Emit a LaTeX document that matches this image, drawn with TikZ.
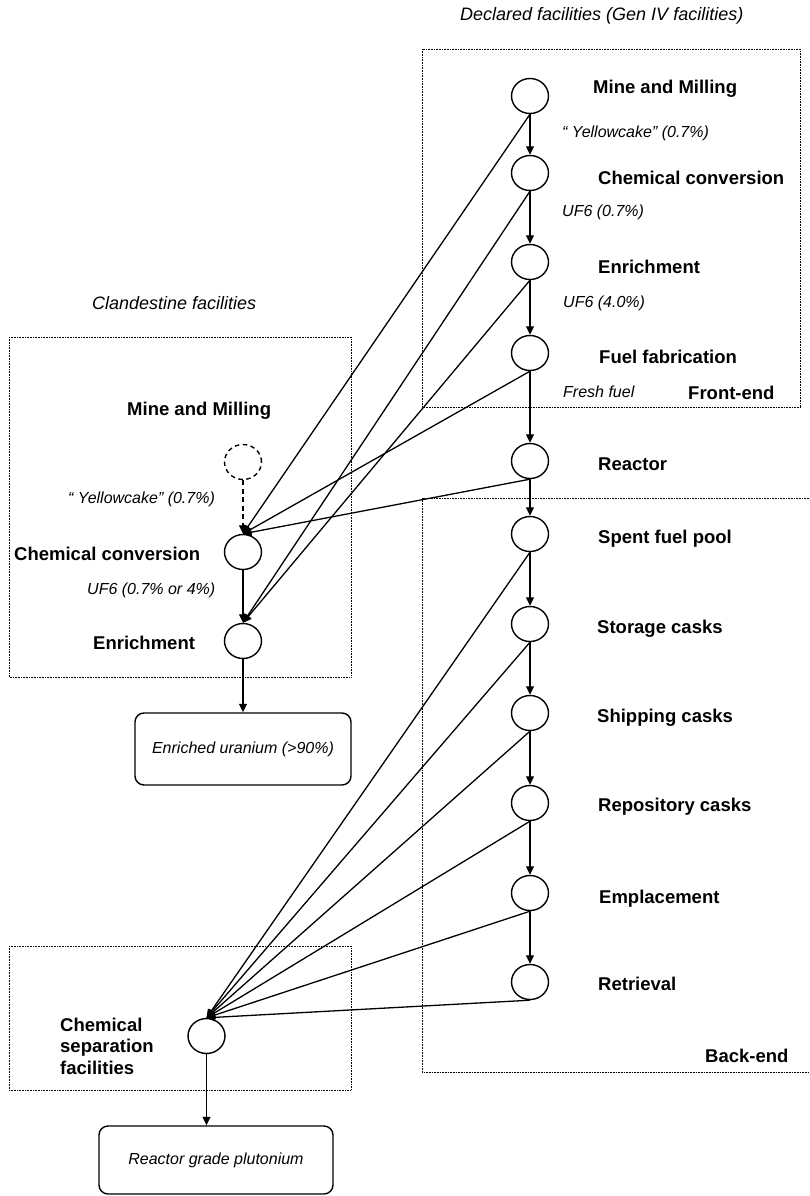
\documentclass[tikz,border=0pt]{standalone}
\usepackage{fontspec}
\setmainfont{Liberation Sans}
\usetikzlibrary{shapes.geometric,arrows.meta}

\tikzset{
  stage/.style={ellipse, draw, line width=1.4pt, minimum width=37pt, minimum height=35pt, inner sep=0pt},
  ghost/.style={stage, dash pattern=on 4.5pt off 3.5pt},
  lbl/.style={inner sep=0pt, anchor=base west, font=\fontsize{18.5}{21.5}\selectfont\bfseries},
  note/.style={inner sep=0pt, anchor=base west, font=\fontsize{16}{19}\selectfont\itshape},
  heading/.style={inner sep=0pt, anchor=base west, font=\fontsize{18}{21}\selectfont\itshape},
  outbox/.style={draw, line width=1.4pt, rounded corners=9pt, inner sep=0pt, font=\fontsize{16}{19}\selectfont\itshape},
  zone/.style={line width=0.8pt, dash pattern=on 0.8pt off 0.8pt},
  flow/.style={line width=1.3pt, -{Triangle[length=8.5pt,width=8pt]}},
}

\begin{document}
\begin{tikzpicture}[x=1pt, y=-1pt]
\useasboundingbox (0,0) rectangle (810,1196);

% facility groupings
\draw[zone] (422,49) rectangle (800,407);
\draw[zone] (814,498) -- (422,498) -- (422,1072) -- (814,1072);
\draw[zone] (9,337) rectangle (351,677);
\draw[zone] (9,946) rectangle (351,1090);

% headings
\node[heading] (hDecl) at (460,21) {Declared facilities (Gen IV facilities)};
\node[heading] (hClan) at (92,309) {Clandestine facilities};

% declared fuel cycle
\node[stage] (mine) at (530,96) {};
\node[stage] (conv) at (530,173) {};
\node[stage] (enr)  at (530,262) {};
\node[stage] (fab)  at (530,353) {};
\node[stage] (reac) at (530,461) {};
\node[stage] (pool) at (530,534) {};
\node[stage] (stor) at (530,624) {};
\node[stage] (ship) at (530,713) {};
\node[stage] (repo) at (530,803) {};
\node[stage] (empl) at (530,893) {};
\node[stage] (retr) at (530,982) {};

\node[lbl] (tMine) at (593,94)  {Mine and Milling};
\node[lbl] (tConv) at (598,184) {Chemical conversion};
\node[lbl] (tEnr)  at (598,273) {Enrichment};
\node[lbl] (tFab)  at (599,363) {Fuel fabrication};
\node[lbl] (tReac) at (598,470) {Reactor};
\node[lbl] (tPool) at (598,543) {Spent fuel pool};
\node[lbl] (tStor) at (597,633) {Storage casks};
\node[lbl] (tShip) at (597,722) {Shipping casks};
\node[lbl] (tRepo) at (598,811) {Repository casks};
\node[lbl] (tEmpl) at (599,903) {Emplacement};
\node[lbl] (tRetr) at (598,990) {Retrieval};
\node[lbl] (tFront) at (688,399) {Front-end};
\node[lbl] (tBack)  at (705,1062) {Back-end};

\node[note] (nYc)  at (562,137) {\char"201C\ Yellowcake\char"201D\ (0.7\%)};
\node[note] (nUf1) at (562,216) {UF6 (0.7\%)};
\node[note] (nUf2) at (563,307) {UF6 (4.0\%)};
\node[note] (nFf)  at (563,397) {Fresh fuel};

% clandestine enrichment route
\node[ghost] (cMine) at (243,462) {};
\node[stage] (cConv) at (243,552) {};
\node[stage] (cEnr)  at (243,641) {};
\node[lbl] (tcMine) at (127,415) {Mine and Milling};
\node[lbl] (tcConv) at (14,560)  {Chemical conversion};
\node[lbl] (tcEnr)  at (93,649)  {Enrichment};
\node[note] (ncYc)  at (68,503)  {\char"201C\ Yellowcake\char"201D\ (0.7\%)};
\node[note] (ncUf)  at (87,594)  {UF6 (0.7\% or 4\%)};
\node[outbox, minimum width=216pt, minimum height=72pt] (heu) at (243,749) {Enriched uranium (>90\%)};

% clandestine separation route
\node[stage] (sep) at (206.5,1036) {};
\node[inner sep=0pt, anchor=west, align=left, font=\fontsize{18.5}{21.5}\selectfont\bfseries] (tSep) at (60,1046) {Chemical\\separation\\facilities};
\node[outbox, minimum width=234pt, minimum height=68pt] (pu) at (216,1160) {Reactor grade plutonium};

% main chain
\foreach \a/\b in {mine/conv, conv/enr, enr/fab, fab/reac, reac/pool, pool/stor, stor/ship, ship/repo, repo/empl, empl/retr}
  \draw[flow] (\a.south) -- (\b.north);

% diversion into conversion and enrichment
\draw[flow, dash pattern=on 5pt off 3.5pt] (cMine.south) -- (cConv.north);
\draw[flow] (cConv.south) -- (cEnr.north);
\draw[flow] (cEnr.south) -- (heu.north);
\foreach \a in {mine, fab, reac}
  \draw[flow] (\a.south) -- (cConv.north);
\foreach \a in {conv, enr}
  \draw[flow] (\a.south) -- (cEnr.north);

% diversion into separation
\foreach \a in {pool, stor, ship, repo, empl, retr}
  \draw[flow] (\a.south) -- (sep.north);
\draw[flow] (sep.south) -- (sep.south |- pu.north);

\end{tikzpicture}
\end{document}
